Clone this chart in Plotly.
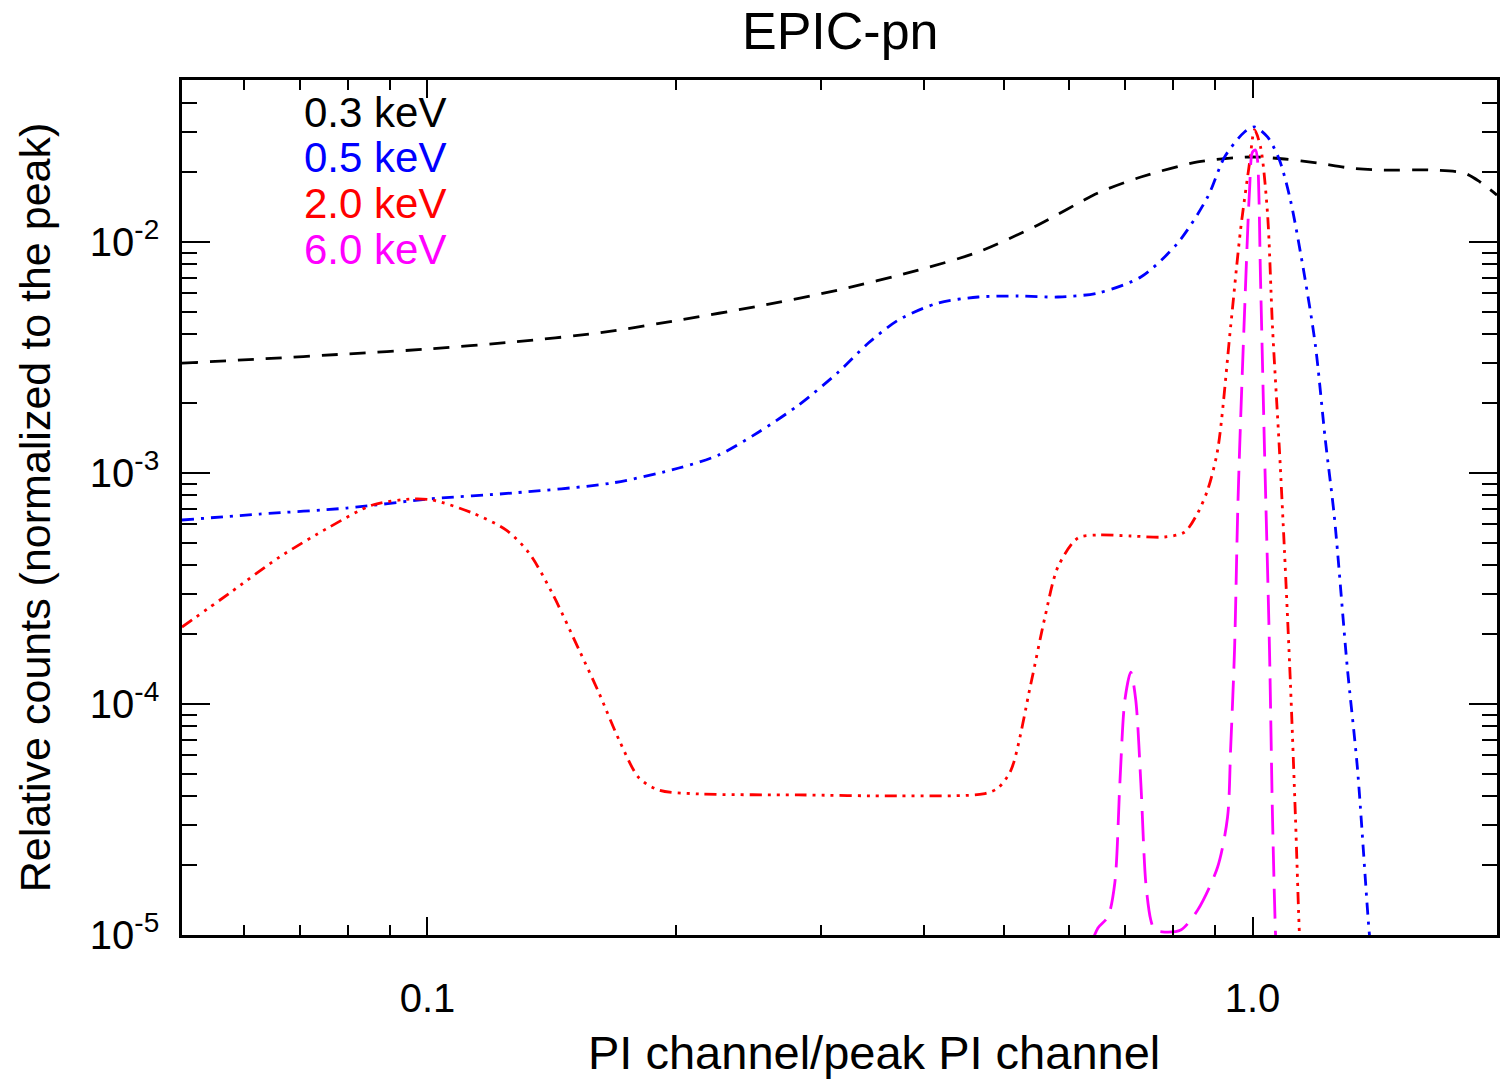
import plotly.graph_objects as go

# ---- data ----
x_03 = [0.0504, 0.0626, 0.0798, 0.1, 0.1267, 0.1614, 0.2017, 0.2521, 0.3149, 0.3935,
        0.4651, 0.5495, 0.6496, 0.7322, 0.8581, 0.9945, 1.093, 1.198, 1.314, 1.428,
        1.641, 1.804, 1.887, 1.978]
y_03 = [0.00299, 0.003114, 0.003275, 0.00344, 0.00369, 0.00404, 0.00459, 0.00528, 0.00620, 0.00756,
        0.00905, 0.01185, 0.01630, 0.01911, 0.02220, 0.02333, 0.02287, 0.02198, 0.02090, 0.02049,
        0.02049, 0.01990, 0.01819, 0.01597]

x_05 = [0.0504, 0.0626, 0.0798, 0.1006, 0.1267, 0.1674, 0.2017, 0.2254, 0.2521, 0.2818,
        0.3149, 0.3423, 0.3722, 0.4159, 0.4651, 0.5197, 0.5809, 0.6496, 0.7322, 0.8116,
        0.8822, 0.9250, 0.9779, 1.0056, 1.0426, 1.0780, 1.1115, 1.1557, 1.1917, 1.2253,
        1.2566, 1.3026, 1.3397, 1.3852, 1.393]
y_05 = [0.000626, 0.000664, 0.000705, 0.000772, 0.000819, 0.000905, 0.001051, 0.001196, 0.001505, 0.001970,
        0.002737, 0.003653, 0.004595, 0.005443, 0.005779, 0.005837, 0.005779, 0.006015, 0.007056, 0.009901,
        0.01566, 0.02333, 0.02994, 0.03147, 0.02849, 0.02265, 0.01520, 0.007200, 0.003581, 0.001389,
        0.000645, 0.0001446, 0.0000534, 0.0000102, 0.0000086]

x_20 = [0.0504, 0.0576, 0.0662, 0.0761, 0.0858, 0.0959, 0.1014, 0.1134, 0.1246, 0.1328,
        0.1416, 0.1527, 0.1614, 0.1707, 0.1805, 0.1908, 0.2133, 0.2818, 0.3722, 0.4716,
        0.4915, 0.5097, 0.5389, 0.5603, 0.5809, 0.6142, 0.6496, 0.7119, 0.7826, 0.8275,
        0.8581, 0.8822, 0.9072, 0.9406, 0.9671, 0.9917, 1.0056, 1.0226, 1.0426, 1.0573,
        1.0780, 1.0931, 1.1115, 1.1272, 1.1397, 1.1430]
y_20 = [0.0002154, 0.0003024, 0.0004329, 0.0005837, 0.0007271, 0.000772, 0.000764, 0.000671, 0.000566, 0.000450,
        0.0003024, 0.0001713, 0.0001116, 0.0000699, 0.0000478, 0.0000424, 0.0000408, 0.0000404, 0.0000400, 0.0000408,
        0.0000433, 0.0000518, 0.0001233, 0.0002379, 0.0003918, 0.0005232, 0.0005390, 0.0005337, 0.0005283, 0.0005553,
        0.000671, 0.000844, 0.001257, 0.004286, 0.01127, 0.02198, 0.03054, 0.02578, 0.01335, 0.004286,
        0.001257, 0.0004642, 0.0001233, 0.00003242, 0.0000102, 0.0000086]

x_60 = [0.6369, 0.6496, 0.6678, 0.6809, 0.6906, 0.7003, 0.7119, 0.7219, 0.7322, 0.7424,
        0.7528, 0.7612, 0.7826, 0.8184, 0.8581, 0.9072, 0.9327, 0.9406, 0.9510, 0.9591,
        0.9645, 0.9779, 0.9917, 1.0, 1.0084, 1.0140, 1.0226, 1.0340, 1.0485, 1.0573,
        1.0662, 1.0691]
y_60 = [9.05e-6, 1.073e-5, 1.197e-5, 1.680e-5, 4.55e-5, 1.041e-4, 1.375e-4, 1.041e-4, 4.55e-5, 1.680e-5,
        1.161e-5, 1.051e-5, 1.030e-5, 1.051e-5, 1.283e-5, 1.970e-5, 3.242e-5, 6.32e-5, 1.713e-4, 6.45e-4,
        1.257e-3, 4.93e-3, 1.680e-2, 2.453e-2, 2.502e-2, 2.265e-2, 6.85e-3, 1.257e-3, 1.713e-4, 3.242e-5,
        1.02e-5, 8.6e-6]

series_labels = ["0.3 keV", "0.5 keV", "2.0 keV", "6.0 keV"]
series_colors = ["#000000", "#0000ff", "#ff0000", "#ff00ff"]
series_dash = ["16px,12px", "12px,7px,3px,7px", "12px,6px,3px,6px,3px,6px,3px,6px", "30px,12px"]

y_tick_vals = [1e-5, 1e-4, 1e-3, 1e-2]
y_tick_text = ["10<sup>-5</sup>", "10<sup>-4</sup>", "10<sup>-3</sup>", "10<sup>-2</sup>"]
y_minor_vals = [m * 10.0 ** e for e in (-5, -4, -3, -2) for m in range(2, 10)]
x_tick_vals = [0.1, 1.0]
x_tick_text = ["0.1", "1.0"]
x_minor_vals = [0.06, 0.07, 0.08, 0.09, 0.2, 0.3, 0.4, 0.5, 0.6, 0.7, 0.8, 0.9]

FONT = "Liberation Sans, Arial, Helvetica, sans-serif"

fig = go.Figure()
for xs, ys, name, col, dash in zip([x_03, x_05, x_20, x_60], [y_03, y_05, y_20, y_60],
                                   series_labels, series_colors, series_dash):
    fig.add_trace(go.Scatter(x=xs, y=ys, mode="lines", name=name,
                             line=dict(color=col, width=2.8, dash=dash, shape="spline", smoothing=0.8),
                             showlegend=False))

W, H = 1500, 1080
L, R, T, B = 182, 0, 80, 145
pw, ph = W - L - R, H - T - B

def px_x(p):
    return (p - L) / pw

def px_y(p):
    return (H - B - p) / ph

fig.update_layout(
    width=W, height=H,
    margin=dict(l=L, r=R, t=T, b=B, pad=0),
    paper_bgcolor="white", plot_bgcolor="white",
    font=dict(family=FONT, color="black"),
    xaxis=dict(type="log", range=[-1.2975, 0.2963], showgrid=False, zeroline=False,
               showline=True, linecolor="black", linewidth=2.5, mirror="allticks",
               ticks="inside", ticklen=18, tickwidth=2, tickcolor="black",
               tickmode="array", tickvals=x_tick_vals, ticktext=x_tick_text,
               tickfont=dict(size=40, family=FONT), ticklabelstandoff=26,
               minor=dict(tickmode="array", tickvals=x_minor_vals, ticks="inside",
                          ticklen=10, tickwidth=1.5, tickcolor="black", showgrid=False)),
    yaxis=dict(type="log", range=[-5, -1.2987], showgrid=False, zeroline=False,
               showline=True, linecolor="black", linewidth=2.5, mirror="allticks",
               ticks="inside", ticklen=28, tickwidth=2, tickcolor="black",
               tickmode="array", tickvals=y_tick_vals, ticktext=y_tick_text,
               tickfont=dict(size=40, family=FONT), ticklabelstandoff=12,
               minor=dict(tickmode="array", tickvals=y_minor_vals, ticks="inside",
                          ticklen=15, tickwidth=1.5, tickcolor="black", showgrid=False)),
)

annotations = [
    dict(text="EPIC-pn", x=px_x(842), y=px_y(31), font=dict(size=52, family=FONT)),
    dict(text="PI channel/peak PI channel", x=px_x(876), y=px_y(1052), font=dict(size=47, family=FONT)),
    dict(text="Relative counts (normalized to the peak)", x=px_x(35), y=px_y(507),
         textangle=-90, font=dict(size=43, family=FONT)),
]
for lab, col, py in zip(series_labels, series_colors, [112, 157, 203, 249]):
    annotations.append(dict(text=lab, x=px_x(302), y=px_y(py), xanchor="left",
                            font=dict(size=42, family=FONT, color=col)))
for a in annotations:
    a.setdefault("xanchor", "center")
    a.update(xref="paper", yref="paper", yanchor="middle", showarrow=False)
fig.update_layout(annotations=annotations)

fig.write_html("out.html")
